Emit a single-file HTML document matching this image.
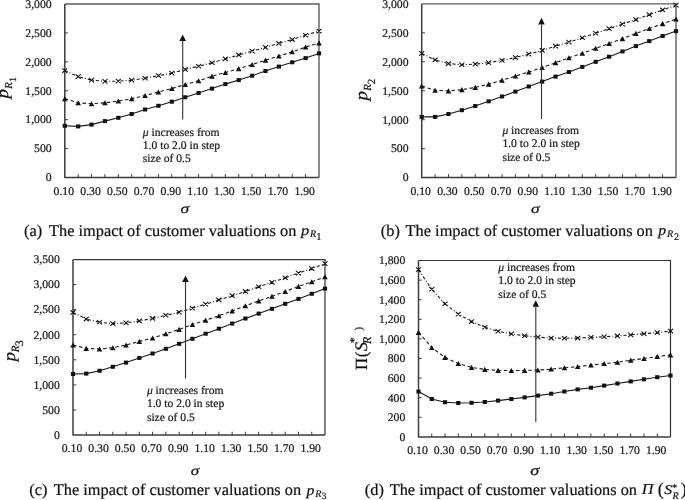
<!DOCTYPE html>
<html><head><meta charset="utf-8"><style>
html,body{margin:0;padding:0;background:#fff;}
body{width:685px;height:500px;overflow:hidden;}
svg{display:block;will-change:transform;text-rendering:geometricPrecision;font-family:"Liberation Serif",serif;}
text{stroke:#1a1a1a;stroke-width:0.22px;}
.yl{font-size:11.7px;fill:#1a1a1a;}
.xl{font-size:11.7px;fill:#1a1a1a;}
.nt{font-size:11.6px;fill:#1a1a1a;}
.sg{fill:#111;}
.yt{fill:#111;}
.cp{font-size:16.35px;fill:#111;}
.cm{fill:#111;}
</style></head><body>
<svg width="685" height="500" viewBox="0 0 685 500">
<rect width="685" height="500" fill="#fff"/>
<path d="M64.8 4H319V177.5" fill="none" stroke="#5c5c5c" stroke-width="1.4"/>
<path d="M64.8 4V177.5H319" fill="none" stroke="#3c3c3c" stroke-width="1.5" stroke-linejoin="round"/>
<text x="51.6" y="181.3" text-anchor="end" class="yl">0</text>
<path d="M64.8 148.58h3.2" stroke="#3c3c3c" stroke-width="1"/>
<text x="51.6" y="152.38" text-anchor="end" class="yl">500</text>
<path d="M64.8 119.67h3.2" stroke="#3c3c3c" stroke-width="1"/>
<text x="51.6" y="123.47" text-anchor="end" class="yl">1,000</text>
<path d="M64.8 90.75h3.2" stroke="#3c3c3c" stroke-width="1"/>
<text x="51.6" y="94.55" text-anchor="end" class="yl">1,500</text>
<path d="M64.8 61.83h3.2" stroke="#3c3c3c" stroke-width="1"/>
<text x="51.6" y="65.63" text-anchor="end" class="yl">2,000</text>
<path d="M64.8 32.92h3.2" stroke="#3c3c3c" stroke-width="1"/>
<text x="51.6" y="36.72" text-anchor="end" class="yl">2,500</text>
<text x="51.6" y="7.8" text-anchor="end" class="yl">3,000</text>
<path d="M78.18 177.5v-3.4M91.56 177.5v-3.4M104.94 177.5v-3.4M118.32 177.5v-3.4M131.69 177.5v-3.4M145.07 177.5v-3.4M158.45 177.5v-3.4M171.83 177.5v-3.4M185.21 177.5v-3.4M198.59 177.5v-3.4M211.97 177.5v-3.4M225.35 177.5v-3.4M238.73 177.5v-3.4M252.11 177.5v-3.4M265.48 177.5v-3.4M278.86 177.5v-3.4M292.24 177.5v-3.4M305.62 177.5v-3.4" stroke="#3c3c3c" stroke-width="1"/>
<text x="63.8" y="194.9" text-anchor="middle" class="xl">0.10</text>
<text x="90.56" y="194.9" text-anchor="middle" class="xl">0.30</text>
<text x="117.32" y="194.9" text-anchor="middle" class="xl">0.50</text>
<text x="144.07" y="194.9" text-anchor="middle" class="xl">0.70</text>
<text x="170.83" y="194.9" text-anchor="middle" class="xl">0.90</text>
<text x="197.59" y="194.9" text-anchor="middle" class="xl">1.10</text>
<text x="224.35" y="194.9" text-anchor="middle" class="xl">1.30</text>
<text x="251.11" y="194.9" text-anchor="middle" class="xl">1.50</text>
<text x="277.86" y="194.9" text-anchor="middle" class="xl">1.70</text>
<text x="304.62" y="194.9" text-anchor="middle" class="xl">1.90</text>
<polyline points="64.8,125.8 78.18,126.4 91.56,124.6 104.94,121.1 118.32,117.8 131.69,114 145.07,109.5 158.45,105.8 171.83,101.7 185.21,97.25 198.59,93 211.97,88.6 225.35,84.1 238.73,80.1 252.11,75.7 265.48,71 278.86,66.6 292.24,62.3 305.62,58.1 319,53.4" fill="none" stroke="#1a1a1a" stroke-width="1.1"/>
<polyline points="64.8,98.7 78.18,102.8 91.56,103.8 104.94,102.8 118.32,101.1 131.69,98.7 145.07,95.6 158.45,92 171.83,88.5 185.21,84.5 198.59,80.8 211.97,76.3 225.35,72.5 238.73,68.7 252.11,64.5 265.48,60.2 278.86,56 292.24,51.8 305.62,47.1 319,42.9" fill="none" stroke="#1a1a1a" stroke-width="1.1" stroke-dasharray="3.5 2.6"/>
<polyline points="64.8,70.55 78.18,76.65 91.56,80.15 104.94,81.35 118.32,81.15 131.69,80.15 145.07,78.25 158.45,75.65 171.83,73.15 185.21,69.45 198.59,66.25 211.97,62.75 225.35,58.95 238.73,54.95 252.11,51.15 265.48,47.35 278.86,43.35 292.24,39.55 305.62,35.25 319,31.05" fill="none" stroke="#1a1a1a" stroke-width="1.1" stroke-dasharray="3.2 2 1 2"/>
<rect x="62.7" y="123.8" width="4.2" height="4.0" fill="#111"/>
<rect x="76.08" y="124.4" width="4.2" height="4.0" fill="#111"/>
<rect x="89.46" y="122.6" width="4.2" height="4.0" fill="#111"/>
<rect x="102.84" y="119.1" width="4.2" height="4.0" fill="#111"/>
<rect x="116.22" y="115.8" width="4.2" height="4.0" fill="#111"/>
<rect x="129.59" y="112" width="4.2" height="4.0" fill="#111"/>
<rect x="142.97" y="107.5" width="4.2" height="4.0" fill="#111"/>
<rect x="156.35" y="103.8" width="4.2" height="4.0" fill="#111"/>
<rect x="169.73" y="99.7" width="4.2" height="4.0" fill="#111"/>
<rect x="183.11" y="95.25" width="4.2" height="4.0" fill="#111"/>
<rect x="196.49" y="91" width="4.2" height="4.0" fill="#111"/>
<rect x="209.87" y="86.6" width="4.2" height="4.0" fill="#111"/>
<rect x="223.25" y="82.1" width="4.2" height="4.0" fill="#111"/>
<rect x="236.63" y="78.1" width="4.2" height="4.0" fill="#111"/>
<rect x="250.01" y="73.7" width="4.2" height="4.0" fill="#111"/>
<rect x="263.38" y="69" width="4.2" height="4.0" fill="#111"/>
<rect x="276.76" y="64.6" width="4.2" height="4.0" fill="#111"/>
<rect x="290.14" y="60.3" width="4.2" height="4.0" fill="#111"/>
<rect x="303.52" y="56.1" width="4.2" height="4.0" fill="#111"/>
<rect x="316.9" y="51.4" width="4.2" height="4.0" fill="#111"/>
<path d="M64.8 96.1L67.6 101.2H62Z" fill="#111"/>
<path d="M78.18 100.2L80.98 105.3H75.38Z" fill="#111"/>
<path d="M91.56 101.2L94.36 106.3H88.76Z" fill="#111"/>
<path d="M104.94 100.2L107.74 105.3H102.14Z" fill="#111"/>
<path d="M118.32 98.5L121.12 103.6H115.52Z" fill="#111"/>
<path d="M131.69 96.1L134.49 101.2H128.89Z" fill="#111"/>
<path d="M145.07 93L147.87 98.1H142.27Z" fill="#111"/>
<path d="M158.45 89.4L161.25 94.5H155.65Z" fill="#111"/>
<path d="M171.83 85.9L174.63 91H169.03Z" fill="#111"/>
<path d="M185.21 81.9L188.01 87H182.41Z" fill="#111"/>
<path d="M198.59 78.2L201.39 83.3H195.79Z" fill="#111"/>
<path d="M211.97 73.7L214.77 78.8H209.17Z" fill="#111"/>
<path d="M225.35 69.9L228.15 75H222.55Z" fill="#111"/>
<path d="M238.73 66.1L241.53 71.2H235.93Z" fill="#111"/>
<path d="M252.11 61.9L254.91 67H249.31Z" fill="#111"/>
<path d="M265.48 57.6L268.28 62.7H262.68Z" fill="#111"/>
<path d="M278.86 53.4L281.66 58.5H276.06Z" fill="#111"/>
<path d="M292.24 49.2L295.04 54.3H289.44Z" fill="#111"/>
<path d="M305.62 44.5L308.42 49.6H302.82Z" fill="#111"/>
<path d="M319 40.3L321.8 45.4H316.2Z" fill="#111"/>
<path d="M62.3 68.35L67.3 72.75M67.3 68.35L62.3 72.75M75.68 74.45L80.68 78.85M80.68 74.45L75.68 78.85M89.06 77.95L94.06 82.35M94.06 77.95L89.06 82.35M102.44 79.15L107.44 83.55M107.44 79.15L102.44 83.55M115.82 78.95L120.82 83.35M120.82 78.95L115.82 83.35M129.19 77.95L134.19 82.35M134.19 77.95L129.19 82.35M142.57 76.05L147.57 80.45M147.57 76.05L142.57 80.45M155.95 73.45L160.95 77.85M160.95 73.45L155.95 77.85M169.33 70.95L174.33 75.35M174.33 70.95L169.33 75.35M182.71 67.25L187.71 71.65M187.71 67.25L182.71 71.65M196.09 64.05L201.09 68.45M201.09 64.05L196.09 68.45M209.47 60.55L214.47 64.95M214.47 60.55L209.47 64.95M222.85 56.75L227.85 61.15M227.85 56.75L222.85 61.15M236.23 52.75L241.23 57.15M241.23 52.75L236.23 57.15M249.61 48.95L254.61 53.35M254.61 48.95L249.61 53.35M262.98 45.15L267.98 49.55M267.98 45.15L262.98 49.55M276.36 41.15L281.36 45.55M281.36 41.15L276.36 45.55M289.74 37.35L294.74 41.75M294.74 37.35L289.74 41.75M303.12 33.05L308.12 37.45M308.12 33.05L303.12 37.45M316.5 28.85L321.5 33.25M321.5 28.85L316.5 33.25" stroke="#111" stroke-width="1.1" fill="none"/>
<path d="M182.7 41.1V119.4" stroke="#333" stroke-width="1.1"/>
<path d="M182.7 34.6L186 41.1H179.4Z" fill="#111"/>
<text x="142.8" y="135.5" class="nt"><tspan font-style="italic">μ</tspan> increases from</text>
<text x="142.8" y="148.6" class="nt">1.0 to 2.0 in step</text>
<text x="142.8" y="161.7" class="nt">size of 0.5</text>
<text transform="translate(180.58 212.51) scale(1.243 1)" font-size="14.04" font-style="italic" class="sg">σ</text>
<text transform="translate(7.88 98.56) rotate(-90) scale(1.089 1)" font-size="17.50" font-style="italic" class="yt">p</text>
<text transform="translate(11.85 88.63) rotate(-90) scale(1.000 1)" font-size="10.62" font-style="italic" class="yt">R</text>
<text transform="translate(15.75 82.01) rotate(-90) scale(1.000 1)" font-size="9.85" class="yt">1</text>
<text x="24" y="235.6" class="cp">(a)</text>
<text x="49" y="235.6" class="cp">The impact of customer valuations on</text>
<text transform="translate(300.93 235.32) scale(1.139 1)" font-size="14.41" font-style="italic" class="cm">p</text>
<text transform="translate(309.95 237.25) scale(1.000 1)" font-size="10.15" font-style="italic" class="cm">R</text>
<text transform="translate(316.28 240.15) scale(1.000 1)" font-size="10.45" class="cm">1</text>
<path d="M421.7 3.9H676V177.6" fill="none" stroke="#5c5c5c" stroke-width="1.4"/>
<path d="M421.7 3.9V177.6H676" fill="none" stroke="#3c3c3c" stroke-width="1.5" stroke-linejoin="round"/>
<text x="408.5" y="181.4" text-anchor="end" class="yl">0</text>
<path d="M421.7 148.65h3.2" stroke="#3c3c3c" stroke-width="1"/>
<text x="408.5" y="152.45" text-anchor="end" class="yl">500</text>
<path d="M421.7 119.7h3.2" stroke="#3c3c3c" stroke-width="1"/>
<text x="408.5" y="123.5" text-anchor="end" class="yl">1,000</text>
<path d="M421.7 90.75h3.2" stroke="#3c3c3c" stroke-width="1"/>
<text x="408.5" y="94.55" text-anchor="end" class="yl">1,500</text>
<path d="M421.7 61.8h3.2" stroke="#3c3c3c" stroke-width="1"/>
<text x="408.5" y="65.6" text-anchor="end" class="yl">2,000</text>
<path d="M421.7 32.85h3.2" stroke="#3c3c3c" stroke-width="1"/>
<text x="408.5" y="36.65" text-anchor="end" class="yl">2,500</text>
<text x="408.5" y="7.7" text-anchor="end" class="yl">3,000</text>
<path d="M435.08 177.6v-3.4M448.47 177.6v-3.4M461.85 177.6v-3.4M475.24 177.6v-3.4M488.62 177.6v-3.4M502.01 177.6v-3.4M515.39 177.6v-3.4M528.77 177.6v-3.4M542.16 177.6v-3.4M555.54 177.6v-3.4M568.93 177.6v-3.4M582.31 177.6v-3.4M595.69 177.6v-3.4M609.08 177.6v-3.4M622.46 177.6v-3.4M635.85 177.6v-3.4M649.23 177.6v-3.4M662.62 177.6v-3.4" stroke="#3c3c3c" stroke-width="1"/>
<text x="420.7" y="195.2" text-anchor="middle" class="xl">0.10</text>
<text x="447.47" y="195.2" text-anchor="middle" class="xl">0.30</text>
<text x="474.24" y="195.2" text-anchor="middle" class="xl">0.50</text>
<text x="501.01" y="195.2" text-anchor="middle" class="xl">0.70</text>
<text x="527.77" y="195.2" text-anchor="middle" class="xl">0.90</text>
<text x="554.54" y="195.2" text-anchor="middle" class="xl">1.10</text>
<text x="581.31" y="195.2" text-anchor="middle" class="xl">1.30</text>
<text x="608.08" y="195.2" text-anchor="middle" class="xl">1.50</text>
<text x="634.85" y="195.2" text-anchor="middle" class="xl">1.70</text>
<text x="661.62" y="195.2" text-anchor="middle" class="xl">1.90</text>
<polyline points="421.7,116.9 435.08,116.9 448.47,114 461.85,110.2 475.24,106 488.62,101.3 502.01,96.5 515.39,91.6 528.77,86.5 542.16,81.6 555.54,76.6 568.93,72 582.31,66.9 595.69,61.8 609.08,56.7 622.46,51.4 635.85,46.1 649.23,41.1 662.62,36 676,31.1" fill="none" stroke="#1a1a1a" stroke-width="1.1"/>
<polyline points="421.7,86.1 435.08,90.3 448.47,90.9 461.85,89.7 475.24,87.4 488.62,84.2 502.01,80.2 515.39,76.1 528.77,71.9 542.16,67.6 555.54,62.7 568.93,57.8 582.31,53.3 595.69,48.3 609.08,43.6 622.46,38.7 635.85,33.4 649.23,28.6 662.62,23.7 676,19" fill="none" stroke="#1a1a1a" stroke-width="1.1" stroke-dasharray="3.5 2.6"/>
<polyline points="421.7,53.35 435.08,59.95 448.47,63.55 461.85,64.75 475.24,64.15 488.62,62.65 502.01,60.35 515.39,57.55 528.77,54.15 542.16,50.45 555.54,46.15 568.93,42.15 582.31,37.75 595.69,33.25 609.08,28.65 622.46,24.15 635.85,19.55 649.23,14.65 662.62,9.95 676,5.15" fill="none" stroke="#1a1a1a" stroke-width="1.1" stroke-dasharray="3.2 2 1 2"/>
<rect x="419.6" y="114.9" width="4.2" height="4.0" fill="#111"/>
<rect x="432.98" y="114.9" width="4.2" height="4.0" fill="#111"/>
<rect x="446.37" y="112" width="4.2" height="4.0" fill="#111"/>
<rect x="459.75" y="108.2" width="4.2" height="4.0" fill="#111"/>
<rect x="473.14" y="104" width="4.2" height="4.0" fill="#111"/>
<rect x="486.52" y="99.3" width="4.2" height="4.0" fill="#111"/>
<rect x="499.91" y="94.5" width="4.2" height="4.0" fill="#111"/>
<rect x="513.29" y="89.6" width="4.2" height="4.0" fill="#111"/>
<rect x="526.67" y="84.5" width="4.2" height="4.0" fill="#111"/>
<rect x="540.06" y="79.6" width="4.2" height="4.0" fill="#111"/>
<rect x="553.44" y="74.6" width="4.2" height="4.0" fill="#111"/>
<rect x="566.83" y="70" width="4.2" height="4.0" fill="#111"/>
<rect x="580.21" y="64.9" width="4.2" height="4.0" fill="#111"/>
<rect x="593.59" y="59.8" width="4.2" height="4.0" fill="#111"/>
<rect x="606.98" y="54.7" width="4.2" height="4.0" fill="#111"/>
<rect x="620.36" y="49.4" width="4.2" height="4.0" fill="#111"/>
<rect x="633.75" y="44.1" width="4.2" height="4.0" fill="#111"/>
<rect x="647.13" y="39.1" width="4.2" height="4.0" fill="#111"/>
<rect x="660.52" y="34" width="4.2" height="4.0" fill="#111"/>
<rect x="673.9" y="29.1" width="4.2" height="4.0" fill="#111"/>
<path d="M421.7 83.5L424.5 88.6H418.9Z" fill="#111"/>
<path d="M435.08 87.7L437.88 92.8H432.28Z" fill="#111"/>
<path d="M448.47 88.3L451.27 93.4H445.67Z" fill="#111"/>
<path d="M461.85 87.1L464.65 92.2H459.05Z" fill="#111"/>
<path d="M475.24 84.8L478.04 89.9H472.44Z" fill="#111"/>
<path d="M488.62 81.6L491.42 86.7H485.82Z" fill="#111"/>
<path d="M502.01 77.6L504.81 82.7H499.21Z" fill="#111"/>
<path d="M515.39 73.5L518.19 78.6H512.59Z" fill="#111"/>
<path d="M528.77 69.3L531.57 74.4H525.97Z" fill="#111"/>
<path d="M542.16 65L544.96 70.1H539.36Z" fill="#111"/>
<path d="M555.54 60.1L558.34 65.2H552.74Z" fill="#111"/>
<path d="M568.93 55.2L571.73 60.3H566.13Z" fill="#111"/>
<path d="M582.31 50.7L585.11 55.8H579.51Z" fill="#111"/>
<path d="M595.69 45.7L598.49 50.8H592.89Z" fill="#111"/>
<path d="M609.08 41L611.88 46.1H606.28Z" fill="#111"/>
<path d="M622.46 36.1L625.26 41.2H619.66Z" fill="#111"/>
<path d="M635.85 30.8L638.65 35.9H633.05Z" fill="#111"/>
<path d="M649.23 26L652.03 31.1H646.43Z" fill="#111"/>
<path d="M662.62 21.1L665.42 26.2H659.82Z" fill="#111"/>
<path d="M676 16.4L678.8 21.5H673.2Z" fill="#111"/>
<path d="M419.2 51.15L424.2 55.55M424.2 51.15L419.2 55.55M432.58 57.75L437.58 62.15M437.58 57.75L432.58 62.15M445.97 61.35L450.97 65.75M450.97 61.35L445.97 65.75M459.35 62.55L464.35 66.95M464.35 62.55L459.35 66.95M472.74 61.95L477.74 66.35M477.74 61.95L472.74 66.35M486.12 60.45L491.12 64.85M491.12 60.45L486.12 64.85M499.51 58.15L504.51 62.55M504.51 58.15L499.51 62.55M512.89 55.35L517.89 59.75M517.89 55.35L512.89 59.75M526.27 51.95L531.27 56.35M531.27 51.95L526.27 56.35M539.66 48.25L544.66 52.65M544.66 48.25L539.66 52.65M553.04 43.95L558.04 48.35M558.04 43.95L553.04 48.35M566.43 39.95L571.43 44.35M571.43 39.95L566.43 44.35M579.81 35.55L584.81 39.95M584.81 35.55L579.81 39.95M593.19 31.05L598.19 35.45M598.19 31.05L593.19 35.45M606.58 26.45L611.58 30.85M611.58 26.45L606.58 30.85M619.96 21.95L624.96 26.35M624.96 21.95L619.96 26.35M633.35 17.35L638.35 21.75M638.35 17.35L633.35 21.75M646.73 12.45L651.73 16.85M651.73 12.45L646.73 16.85M660.12 7.75L665.12 12.15M665.12 7.75L660.12 12.15M673.5 2.95L678.5 7.35M678.5 2.95L673.5 7.35" stroke="#111" stroke-width="1.1" fill="none"/>
<path d="M541.5 24.5V119" stroke="#333" stroke-width="1.1"/>
<path d="M541.5 17.7L544.8 24.5H538.2Z" fill="#111"/>
<text x="502.4" y="133.9" class="nt"><tspan font-style="italic">μ</tspan> increases from</text>
<text x="502.4" y="147.2" class="nt">1.0 to 2.0 in step</text>
<text x="502.4" y="160.5" class="nt">size of 0.5</text>
<text transform="translate(530.92 212.61) scale(1.268 1)" font-size="13.85" font-style="italic" class="sg">σ</text>
<text transform="translate(367.17 100.41) rotate(-90) scale(1.089 1)" font-size="17.50" font-style="italic" class="yt">p</text>
<text transform="translate(370.65 90.72) rotate(-90) scale(1.000 1)" font-size="10.92" font-style="italic" class="yt">R</text>
<text transform="translate(374.65 84.22) rotate(-90) scale(1.000 1)" font-size="10.92" class="yt">2</text>
<text x="380.8" y="236" class="cp">(b)</text>
<text x="405.6" y="236" class="cp">The impact of customer valuations on</text>
<text transform="translate(658.29 235.23) scale(1.054 1)" font-size="14.85" font-style="italic" class="cm">p</text>
<text transform="translate(666.95 237.25) scale(1.000 1)" font-size="10.15" font-style="italic" class="cm">R</text>
<text transform="translate(673.96 240.15) scale(1.000 1)" font-size="10.15" class="cm">2</text>
<path d="M73 259.5H325V435.1" fill="none" stroke="#3a3a3a" stroke-width="1.25"/>
<path d="M73 259.5V435.1H325" fill="none" stroke="#3c3c3c" stroke-width="1.5" stroke-linejoin="round"/>
<text x="59.8" y="438.9" text-anchor="end" class="yl">0</text>
<path d="M73 410.01h3.2" stroke="#3c3c3c" stroke-width="1"/>
<text x="59.8" y="413.81" text-anchor="end" class="yl">500</text>
<path d="M73 384.93h3.2" stroke="#3c3c3c" stroke-width="1"/>
<text x="59.8" y="388.73" text-anchor="end" class="yl">1,000</text>
<path d="M73 359.84h3.2" stroke="#3c3c3c" stroke-width="1"/>
<text x="59.8" y="363.64" text-anchor="end" class="yl">1,500</text>
<path d="M73 334.76h3.2" stroke="#3c3c3c" stroke-width="1"/>
<text x="59.8" y="338.56" text-anchor="end" class="yl">2,000</text>
<path d="M73 309.67h3.2" stroke="#3c3c3c" stroke-width="1"/>
<text x="59.8" y="313.47" text-anchor="end" class="yl">2,500</text>
<path d="M73 284.59h3.2" stroke="#3c3c3c" stroke-width="1"/>
<text x="59.8" y="288.39" text-anchor="end" class="yl">3,000</text>
<text x="59.8" y="263.3" text-anchor="end" class="yl">3,500</text>
<path d="M86.26 435.1v-3.4M99.53 435.1v-3.4M112.79 435.1v-3.4M126.05 435.1v-3.4M139.32 435.1v-3.4M152.58 435.1v-3.4M165.84 435.1v-3.4M179.11 435.1v-3.4M192.37 435.1v-3.4M205.63 435.1v-3.4M218.89 435.1v-3.4M232.16 435.1v-3.4M245.42 435.1v-3.4M258.68 435.1v-3.4M271.95 435.1v-3.4M285.21 435.1v-3.4M298.47 435.1v-3.4M311.74 435.1v-3.4" stroke="#3c3c3c" stroke-width="1"/>
<text x="72" y="452" text-anchor="middle" class="xl">0.10</text>
<text x="98.53" y="452" text-anchor="middle" class="xl">0.30</text>
<text x="125.05" y="452" text-anchor="middle" class="xl">0.50</text>
<text x="151.58" y="452" text-anchor="middle" class="xl">0.70</text>
<text x="178.11" y="452" text-anchor="middle" class="xl">0.90</text>
<text x="204.63" y="452" text-anchor="middle" class="xl">1.10</text>
<text x="231.16" y="452" text-anchor="middle" class="xl">1.30</text>
<text x="257.68" y="452" text-anchor="middle" class="xl">1.50</text>
<text x="284.21" y="452" text-anchor="middle" class="xl">1.70</text>
<text x="310.74" y="452" text-anchor="middle" class="xl">1.90</text>
<polyline points="73,374 86.26,373.6 99.53,370.8 112.79,366.8 126.05,362.6 139.32,357.9 152.58,353.5 165.84,348.8 179.11,343.8 192.37,338.8 205.63,333.7 218.89,328.7 232.16,323.6 245.42,318.5 258.68,313.6 271.95,308.8 285.21,303.8 298.47,298.9 311.74,293.8 325,288.6" fill="none" stroke="#1a1a1a" stroke-width="1.1"/>
<polyline points="73,345 86.26,348.4 99.53,349 112.79,347.8 126.05,345 139.32,341.4 152.58,338 165.84,333.8 179.11,329.4 192.37,324.5 205.63,320.2 218.89,315.8 232.16,310.9 245.42,305.8 258.68,300.9 271.95,296.3 285.21,291.5 298.47,286.4 311.74,281.8 325,276.8" fill="none" stroke="#1a1a1a" stroke-width="1.1" stroke-dasharray="3.5 2.6"/>
<polyline points="73,312.45 86.26,319.05 99.53,322.25 112.79,323.55 126.05,322.85 139.32,320.95 152.58,318.45 165.84,315.25 179.11,312.25 192.37,308.25 205.63,304.15 218.89,299.95 232.16,295.65 245.42,291.45 258.68,286.75 271.95,282.35 285.21,277.75 298.47,273.05 311.74,268.55 325,263.65" fill="none" stroke="#1a1a1a" stroke-width="1.1" stroke-dasharray="3.2 2 1 2"/>
<rect x="70.9" y="372" width="4.2" height="4.0" fill="#111"/>
<rect x="84.16" y="371.6" width="4.2" height="4.0" fill="#111"/>
<rect x="97.43" y="368.8" width="4.2" height="4.0" fill="#111"/>
<rect x="110.69" y="364.8" width="4.2" height="4.0" fill="#111"/>
<rect x="123.95" y="360.6" width="4.2" height="4.0" fill="#111"/>
<rect x="137.22" y="355.9" width="4.2" height="4.0" fill="#111"/>
<rect x="150.48" y="351.5" width="4.2" height="4.0" fill="#111"/>
<rect x="163.74" y="346.8" width="4.2" height="4.0" fill="#111"/>
<rect x="177.01" y="341.8" width="4.2" height="4.0" fill="#111"/>
<rect x="190.27" y="336.8" width="4.2" height="4.0" fill="#111"/>
<rect x="203.53" y="331.7" width="4.2" height="4.0" fill="#111"/>
<rect x="216.79" y="326.7" width="4.2" height="4.0" fill="#111"/>
<rect x="230.06" y="321.6" width="4.2" height="4.0" fill="#111"/>
<rect x="243.32" y="316.5" width="4.2" height="4.0" fill="#111"/>
<rect x="256.58" y="311.6" width="4.2" height="4.0" fill="#111"/>
<rect x="269.85" y="306.8" width="4.2" height="4.0" fill="#111"/>
<rect x="283.11" y="301.8" width="4.2" height="4.0" fill="#111"/>
<rect x="296.37" y="296.9" width="4.2" height="4.0" fill="#111"/>
<rect x="309.64" y="291.8" width="4.2" height="4.0" fill="#111"/>
<rect x="322.9" y="286.6" width="4.2" height="4.0" fill="#111"/>
<path d="M73 342.4L75.8 347.5H70.2Z" fill="#111"/>
<path d="M86.26 345.8L89.06 350.9H83.46Z" fill="#111"/>
<path d="M99.53 346.4L102.33 351.5H96.73Z" fill="#111"/>
<path d="M112.79 345.2L115.59 350.3H109.99Z" fill="#111"/>
<path d="M126.05 342.4L128.85 347.5H123.25Z" fill="#111"/>
<path d="M139.32 338.8L142.12 343.9H136.52Z" fill="#111"/>
<path d="M152.58 335.4L155.38 340.5H149.78Z" fill="#111"/>
<path d="M165.84 331.2L168.64 336.3H163.04Z" fill="#111"/>
<path d="M179.11 326.8L181.91 331.9H176.31Z" fill="#111"/>
<path d="M192.37 321.9L195.17 327H189.57Z" fill="#111"/>
<path d="M205.63 317.6L208.43 322.7H202.83Z" fill="#111"/>
<path d="M218.89 313.2L221.69 318.3H216.09Z" fill="#111"/>
<path d="M232.16 308.3L234.96 313.4H229.36Z" fill="#111"/>
<path d="M245.42 303.2L248.22 308.3H242.62Z" fill="#111"/>
<path d="M258.68 298.3L261.48 303.4H255.88Z" fill="#111"/>
<path d="M271.95 293.7L274.75 298.8H269.15Z" fill="#111"/>
<path d="M285.21 288.9L288.01 294H282.41Z" fill="#111"/>
<path d="M298.47 283.8L301.27 288.9H295.67Z" fill="#111"/>
<path d="M311.74 279.2L314.54 284.3H308.94Z" fill="#111"/>
<path d="M325 274.2L327.8 279.3H322.2Z" fill="#111"/>
<path d="M70.5 310.25L75.5 314.65M75.5 310.25L70.5 314.65M83.76 316.85L88.76 321.25M88.76 316.85L83.76 321.25M97.03 320.05L102.03 324.45M102.03 320.05L97.03 324.45M110.29 321.35L115.29 325.75M115.29 321.35L110.29 325.75M123.55 320.65L128.55 325.05M128.55 320.65L123.55 325.05M136.82 318.75L141.82 323.15M141.82 318.75L136.82 323.15M150.08 316.25L155.08 320.65M155.08 316.25L150.08 320.65M163.34 313.05L168.34 317.45M168.34 313.05L163.34 317.45M176.61 310.05L181.61 314.45M181.61 310.05L176.61 314.45M189.87 306.05L194.87 310.45M194.87 306.05L189.87 310.45M203.13 301.95L208.13 306.35M208.13 301.95L203.13 306.35M216.39 297.75L221.39 302.15M221.39 297.75L216.39 302.15M229.66 293.45L234.66 297.85M234.66 293.45L229.66 297.85M242.92 289.25L247.92 293.65M247.92 289.25L242.92 293.65M256.18 284.55L261.18 288.95M261.18 284.55L256.18 288.95M269.45 280.15L274.45 284.55M274.45 280.15L269.45 284.55M282.71 275.55L287.71 279.95M287.71 275.55L282.71 279.95M295.97 270.85L300.97 275.25M300.97 270.85L295.97 275.25M309.24 266.35L314.24 270.75M314.24 266.35L309.24 270.75M322.5 261.45L327.5 265.85M327.5 261.45L322.5 265.85" stroke="#111" stroke-width="1.1" fill="none"/>
<path d="M185.5 282V378.5" stroke="#333" stroke-width="1.1"/>
<path d="M185.5 275.4L188.8 282H182.2Z" fill="#111"/>
<text x="146.9" y="393.7" class="nt"><tspan font-style="italic">μ</tspan> increases from</text>
<text x="146.9" y="407.2" class="nt">1.0 to 2.0 in step</text>
<text x="146.9" y="420.7" class="nt">size of 0.5</text>
<text transform="translate(190.84 475.41) scale(1.238 1)" font-size="13.85" font-style="italic" class="sg">σ</text>
<text transform="translate(15.20 361.24) rotate(-90) scale(1.093 1)" font-size="16.91" font-style="italic" class="yt">p</text>
<text transform="translate(18.75 352.32) rotate(-90) scale(1.000 1)" font-size="11.08" font-style="italic" class="yt">R</text>
<text transform="translate(23.33 345.89) rotate(-90) scale(1.000 1)" font-size="11.52" class="yt">3</text>
<text x="29.3" y="495.1" class="cp">(c)</text>
<text x="53.8" y="495.1" class="cp">The impact of customer valuations on</text>
<text transform="translate(306.50 494.63) scale(1.067 1)" font-size="14.85" font-style="italic" class="cm">p</text>
<text transform="translate(315.25 496.65) scale(1.000 1)" font-size="10.15" font-style="italic" class="cm">R</text>
<text transform="translate(321.67 499.15) scale(1.000 1)" font-size="9.55" class="cm">3</text>
<path d="M418.5 260.5H670.5V436.9" fill="none" stroke="#333" stroke-width="1.2"/>
<path d="M418.5 260.5V436.9H670.5" fill="none" stroke="#3c3c3c" stroke-width="1.5" stroke-linejoin="round"/>
<text x="405.3" y="440.7" text-anchor="end" class="yl">0</text>
<path d="M418.5 417.3h3.2" stroke="#3c3c3c" stroke-width="1"/>
<text x="405.3" y="421.1" text-anchor="end" class="yl">200</text>
<path d="M418.5 397.7h3.2" stroke="#3c3c3c" stroke-width="1"/>
<text x="405.3" y="401.5" text-anchor="end" class="yl">400</text>
<path d="M418.5 378.1h3.2" stroke="#3c3c3c" stroke-width="1"/>
<text x="405.3" y="381.9" text-anchor="end" class="yl">600</text>
<path d="M418.5 358.5h3.2" stroke="#3c3c3c" stroke-width="1"/>
<text x="405.3" y="362.3" text-anchor="end" class="yl">800</text>
<path d="M418.5 338.9h3.2" stroke="#3c3c3c" stroke-width="1"/>
<text x="405.3" y="342.7" text-anchor="end" class="yl">1,000</text>
<path d="M418.5 319.3h3.2" stroke="#3c3c3c" stroke-width="1"/>
<text x="405.3" y="323.1" text-anchor="end" class="yl">1,200</text>
<path d="M418.5 299.7h3.2" stroke="#3c3c3c" stroke-width="1"/>
<text x="405.3" y="303.5" text-anchor="end" class="yl">1,400</text>
<path d="M418.5 280.1h3.2" stroke="#3c3c3c" stroke-width="1"/>
<text x="405.3" y="283.9" text-anchor="end" class="yl">1,600</text>
<text x="405.3" y="264.3" text-anchor="end" class="yl">1,800</text>
<path d="M431.76 436.9v-3.4M445.03 436.9v-3.4M458.29 436.9v-3.4M471.55 436.9v-3.4M484.82 436.9v-3.4M498.08 436.9v-3.4M511.34 436.9v-3.4M524.61 436.9v-3.4M537.87 436.9v-3.4M551.13 436.9v-3.4M564.39 436.9v-3.4M577.66 436.9v-3.4M590.92 436.9v-3.4M604.18 436.9v-3.4M617.45 436.9v-3.4M630.71 436.9v-3.4M643.97 436.9v-3.4M657.24 436.9v-3.4" stroke="#3c3c3c" stroke-width="1"/>
<text x="417.5" y="454.3" text-anchor="middle" class="xl">0.10</text>
<text x="444.03" y="454.3" text-anchor="middle" class="xl">0.30</text>
<text x="470.55" y="454.3" text-anchor="middle" class="xl">0.50</text>
<text x="497.08" y="454.3" text-anchor="middle" class="xl">0.70</text>
<text x="523.61" y="454.3" text-anchor="middle" class="xl">0.90</text>
<text x="550.13" y="454.3" text-anchor="middle" class="xl">1.10</text>
<text x="576.66" y="454.3" text-anchor="middle" class="xl">1.30</text>
<text x="603.18" y="454.3" text-anchor="middle" class="xl">1.50</text>
<text x="629.71" y="454.3" text-anchor="middle" class="xl">1.70</text>
<text x="656.24" y="454.3" text-anchor="middle" class="xl">1.90</text>
<polyline points="418.5,391.6 431.76,399 445.03,402.2 458.29,403 471.55,402.8 484.82,402 498.08,400.6 511.34,399 524.61,397.4 537.87,395.6 551.13,393.7 564.39,391.5 577.66,389.4 590.92,387.7 604.18,385.6 617.45,383.5 630.71,381.4 643.97,379.3 657.24,377.2 670.5,375.5" fill="none" stroke="#1a1a1a" stroke-width="1.1"/>
<polyline points="418.5,332.4 431.76,347.6 445.03,357.4 458.29,363.6 471.55,367.4 484.82,369.4 498.08,370.4 511.34,370.6 524.61,370.4 537.87,370.1 551.13,369.1 564.39,367.8 577.66,366.6 590.92,365.1 604.18,363.6 617.45,362.3 630.71,360.2 643.97,358.5 657.24,356.6 670.5,354.9" fill="none" stroke="#1a1a1a" stroke-width="1.1" stroke-dasharray="3.5 2.6"/>
<polyline points="418.5,269.65 431.76,289.25 445.03,303.75 458.29,314.15 471.55,321.55 484.82,327.25 498.08,331.25 511.34,333.85 524.61,335.75 537.87,337.15 551.13,338.05 564.39,338.25 577.66,338.05 590.92,337.35 604.18,336.75 617.45,335.95 630.71,334.85 643.97,333.75 657.24,332.55 670.5,331.05" fill="none" stroke="#1a1a1a" stroke-width="1.1" stroke-dasharray="3.2 2 1 2"/>
<rect x="416.4" y="389.6" width="4.2" height="4.0" fill="#111"/>
<rect x="429.66" y="397" width="4.2" height="4.0" fill="#111"/>
<rect x="442.93" y="400.2" width="4.2" height="4.0" fill="#111"/>
<rect x="456.19" y="401" width="4.2" height="4.0" fill="#111"/>
<rect x="469.45" y="400.8" width="4.2" height="4.0" fill="#111"/>
<rect x="482.72" y="400" width="4.2" height="4.0" fill="#111"/>
<rect x="495.98" y="398.6" width="4.2" height="4.0" fill="#111"/>
<rect x="509.24" y="397" width="4.2" height="4.0" fill="#111"/>
<rect x="522.51" y="395.4" width="4.2" height="4.0" fill="#111"/>
<rect x="535.77" y="393.6" width="4.2" height="4.0" fill="#111"/>
<rect x="549.03" y="391.7" width="4.2" height="4.0" fill="#111"/>
<rect x="562.29" y="389.5" width="4.2" height="4.0" fill="#111"/>
<rect x="575.56" y="387.4" width="4.2" height="4.0" fill="#111"/>
<rect x="588.82" y="385.7" width="4.2" height="4.0" fill="#111"/>
<rect x="602.08" y="383.6" width="4.2" height="4.0" fill="#111"/>
<rect x="615.35" y="381.5" width="4.2" height="4.0" fill="#111"/>
<rect x="628.61" y="379.4" width="4.2" height="4.0" fill="#111"/>
<rect x="641.87" y="377.3" width="4.2" height="4.0" fill="#111"/>
<rect x="655.14" y="375.2" width="4.2" height="4.0" fill="#111"/>
<rect x="668.4" y="373.5" width="4.2" height="4.0" fill="#111"/>
<path d="M418.5 329.8L421.3 334.9H415.7Z" fill="#111"/>
<path d="M431.76 345L434.56 350.1H428.96Z" fill="#111"/>
<path d="M445.03 354.8L447.83 359.9H442.23Z" fill="#111"/>
<path d="M458.29 361L461.09 366.1H455.49Z" fill="#111"/>
<path d="M471.55 364.8L474.35 369.9H468.75Z" fill="#111"/>
<path d="M484.82 366.8L487.62 371.9H482.02Z" fill="#111"/>
<path d="M498.08 367.8L500.88 372.9H495.28Z" fill="#111"/>
<path d="M511.34 368L514.14 373.1H508.54Z" fill="#111"/>
<path d="M524.61 367.8L527.41 372.9H521.81Z" fill="#111"/>
<path d="M537.87 367.5L540.67 372.6H535.07Z" fill="#111"/>
<path d="M551.13 366.5L553.93 371.6H548.33Z" fill="#111"/>
<path d="M564.39 365.2L567.19 370.3H561.59Z" fill="#111"/>
<path d="M577.66 364L580.46 369.1H574.86Z" fill="#111"/>
<path d="M590.92 362.5L593.72 367.6H588.12Z" fill="#111"/>
<path d="M604.18 361L606.98 366.1H601.38Z" fill="#111"/>
<path d="M617.45 359.7L620.25 364.8H614.65Z" fill="#111"/>
<path d="M630.71 357.6L633.51 362.7H627.91Z" fill="#111"/>
<path d="M643.97 355.9L646.77 361H641.17Z" fill="#111"/>
<path d="M657.24 354L660.04 359.1H654.44Z" fill="#111"/>
<path d="M670.5 352.3L673.3 357.4H667.7Z" fill="#111"/>
<path d="M416 267.45L421 271.85M421 267.45L416 271.85M429.26 287.05L434.26 291.45M434.26 287.05L429.26 291.45M442.53 301.55L447.53 305.95M447.53 301.55L442.53 305.95M455.79 311.95L460.79 316.35M460.79 311.95L455.79 316.35M469.05 319.35L474.05 323.75M474.05 319.35L469.05 323.75M482.32 325.05L487.32 329.45M487.32 325.05L482.32 329.45M495.58 329.05L500.58 333.45M500.58 329.05L495.58 333.45M508.84 331.65L513.84 336.05M513.84 331.65L508.84 336.05M522.11 333.55L527.11 337.95M527.11 333.55L522.11 337.95M535.37 334.95L540.37 339.35M540.37 334.95L535.37 339.35M548.63 335.85L553.63 340.25M553.63 335.85L548.63 340.25M561.89 336.05L566.89 340.45M566.89 336.05L561.89 340.45M575.16 335.85L580.16 340.25M580.16 335.85L575.16 340.25M588.42 335.15L593.42 339.55M593.42 335.15L588.42 339.55M601.68 334.55L606.68 338.95M606.68 334.55L601.68 338.95M614.95 333.75L619.95 338.15M619.95 333.75L614.95 338.15M628.21 332.65L633.21 337.05M633.21 332.65L628.21 337.05M641.47 331.55L646.47 335.95M646.47 331.55L641.47 335.95M654.74 330.35L659.74 334.75M659.74 330.35L654.74 334.75M668 328.85L673 333.25M673 328.85L668 333.25" stroke="#111" stroke-width="1.1" fill="none"/>
<path d="M535.8 306.7V422" stroke="#333" stroke-width="1.1"/>
<path d="M535.8 300.3L539.1 306.7H532.5Z" fill="#111"/>
<text x="498.3" y="271" class="nt"><tspan font-style="italic">μ</tspan> increases from</text>
<text x="498.3" y="284.3" class="nt">1.0 to 2.0 in step</text>
<text x="498.3" y="297.6" class="nt">size of 0.5</text>
<text transform="translate(530.30 475.40) scale(1.257 1)" font-size="14.62" font-style="italic" class="sg">σ</text>
<text transform="translate(366.65 369.90) rotate(-90) scale(0.985 1)" font-size="17.00" class="yt">Π</text>
<text transform="translate(367.08 357.14) rotate(-90) scale(1.000 1)" font-size="17.00" class="yt">(</text>
<text transform="translate(366.80 351.34) rotate(-90) scale(1.063 1)" font-size="17.61" font-style="italic" class="yt">S</text>
<text transform="translate(358.39 343.25) rotate(-90) scale(1.000 1)" font-size="12.00" class="yt">*</text>
<text transform="translate(371.45 344.04) rotate(-90) scale(1.000 1)" font-size="12.00" font-style="italic" class="yt">R</text>
<text transform="translate(362.19 330.47) rotate(-90) scale(1.000 1)" font-size="10.78" class="yt">)</text>
<text x="364.8" y="494.9" class="cp">(d)</text>
<text x="389.7" y="494.9" class="cp">The impact of customer valuations on</text>
<text transform="translate(641.71 494.15) scale(1.082 1)" font-size="14.92" font-style="italic" class="cm">Π</text>
<text transform="translate(657.69 494.77) scale(1.000 1)" font-size="18.00" class="cm">(</text>
<text transform="translate(664.29 493.88) scale(1.185 1)" font-size="13.28" font-style="italic" class="cm">S</text>
<text transform="translate(671.98 491.44) scale(1.000 1)" font-size="10.50" class="cm">*</text>
<text transform="translate(672.45 498.55) scale(1.000 1)" font-size="10.00" font-style="italic" class="cm">R</text>
<text transform="translate(680.77 494.77) scale(1.000 1)" font-size="18.00" class="cm">)</text>
</svg>
</body></html>
